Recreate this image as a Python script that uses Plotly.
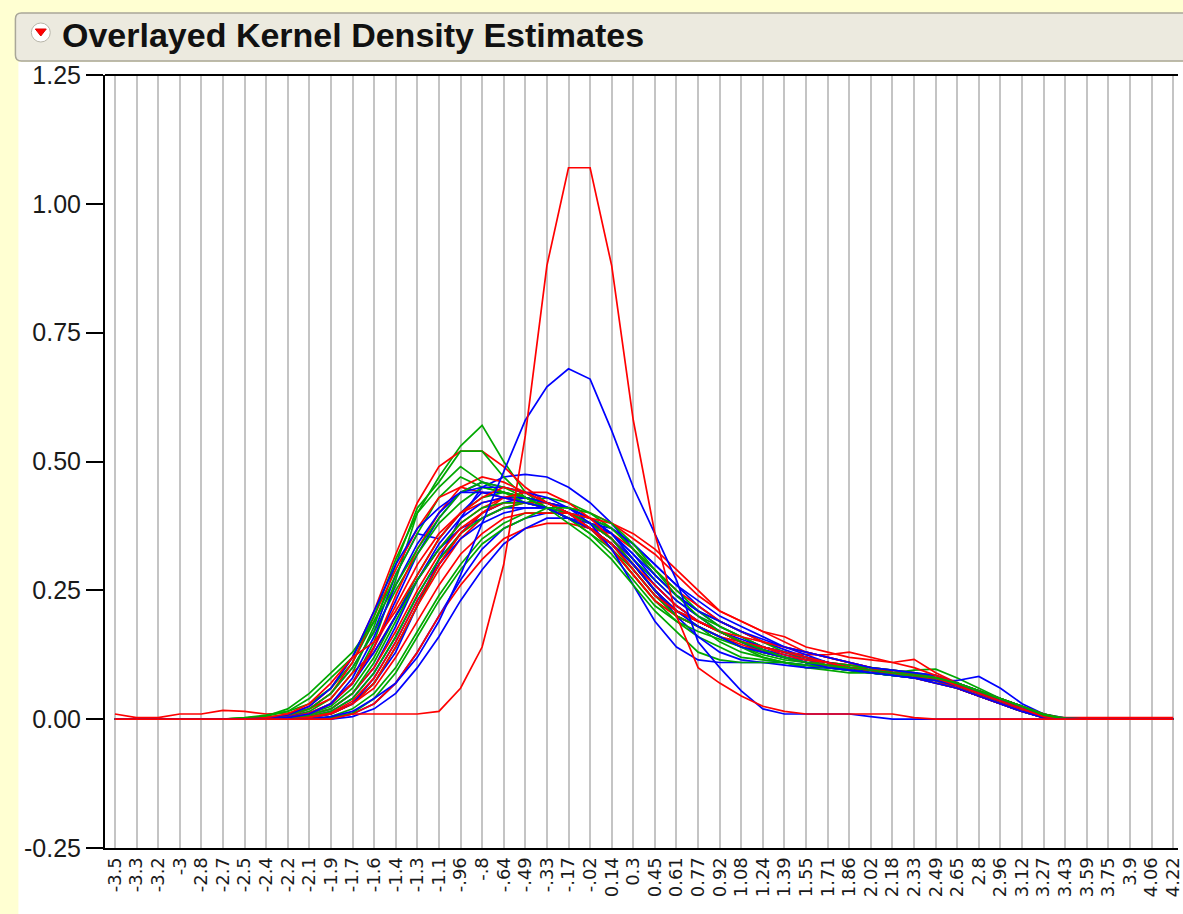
import plotly.graph_objects as go

# Category axis labels (bin centres as printed on the axis)
x_labels = ["-3.5", "-3.3", "-3.2", "-3", "-2.8", "-2.7", "-2.5", "-2.4", "-2.2", "-2.1",
            "-1.9", "-1.7", "-1.6", "-1.4", "-1.3", "-1.1", "-.96", "-.8", "-.64", "-.49",
            "-.33", "-.17", "-.02", "0.14", "0.3", "0.45", "0.61", "0.77", "0.92", "1.08",
            "1.24", "1.39", "1.55", "1.71", "1.86", "2.02", "2.18", "2.33", "2.49", "2.65",
            "2.8", "2.96", "3.12", "3.27", "3.43", "3.59", "3.75", "3.9", "4.06", "4.22"]

y_tick_vals = [-0.25, 0.0, 0.25, 0.5, 0.75, 1.0, 1.25]
y_tick_text = ["-0.25", "0.00", "0.25", "0.50", "0.75", "1.00", "1.25"]

# ---- density estimates, green group ----
green_1 = [0, 0, 0, 0, 0, 0, 0, 0, 0.003, 0.01,
           0.03, 0.07, 0.15, 0.27, 0.40, 0.47, 0.53, 0.57, 0.50, 0.44,
           0.41, 0.39, 0.37, 0.34, 0.30, 0.25, 0.21, 0.19, 0.17, 0.15,
           0.13, 0.12, 0.11, 0.105, 0.10, 0.095, 0.09, 0.085, 0.08, 0.065,
           0.05, 0.035, 0.02, 0.005, 0, 0, 0, 0, 0, 0]
green_2 = [0, 0, 0, 0, 0, 0, 0, 0, 0.005, 0.015,
           0.04, 0.09, 0.18, 0.30, 0.41, 0.46, 0.52, 0.52, 0.47, 0.43,
           0.41, 0.39, 0.36, 0.33, 0.29, 0.24, 0.21, 0.19, 0.17, 0.15,
           0.135, 0.12, 0.11, 0.105, 0.10, 0.095, 0.09, 0.09, 0.085, 0.07,
           0.05, 0.035, 0.02, 0.005, 0, 0, 0, 0, 0, 0]
green_3 = [0, 0, 0, 0, 0, 0, 0.003, 0.008, 0.015, 0.03,
           0.06, 0.11, 0.19, 0.28, 0.36, 0.43, 0.47, 0.45, 0.44, 0.43,
           0.42, 0.40, 0.38, 0.35, 0.30, 0.25, 0.20, 0.18, 0.16, 0.14,
           0.12, 0.11, 0.10, 0.10, 0.095, 0.09, 0.09, 0.095, 0.097, 0.08,
           0.06, 0.04, 0.02, 0.005, 0, 0, 0, 0, 0, 0]
green_4 = [0, 0, 0, 0, 0, 0, 0, 0, 0, 0.003,
           0.01, 0.03, 0.07, 0.14, 0.22, 0.30, 0.36, 0.40, 0.42, 0.42,
           0.42, 0.41, 0.39, 0.36, 0.31, 0.27, 0.23, 0.20, 0.18, 0.16,
           0.14, 0.13, 0.12, 0.11, 0.10, 0.095, 0.09, 0.085, 0.08, 0.07,
           0.055, 0.04, 0.025, 0.008, 0, 0, 0, 0, 0, 0]
green_5 = [0, 0, 0, 0, 0, 0, 0, 0, 0.003, 0.01,
           0.025, 0.06, 0.12, 0.20, 0.28, 0.35, 0.40, 0.43, 0.44, 0.43,
           0.42, 0.40, 0.37, 0.33, 0.28, 0.23, 0.19, 0.16, 0.14, 0.12,
           0.115, 0.11, 0.105, 0.10, 0.10, 0.095, 0.09, 0.085, 0.075, 0.06,
           0.045, 0.03, 0.015, 0.003, 0, 0, 0, 0, 0, 0]
green_6 = [0, 0, 0, 0, 0, 0, 0, 0, 0, 0.005,
           0.015, 0.04, 0.09, 0.16, 0.24, 0.31, 0.36, 0.39, 0.41, 0.42,
           0.43, 0.42, 0.40, 0.37, 0.33, 0.28, 0.24, 0.21, 0.19, 0.17,
           0.15, 0.13, 0.115, 0.105, 0.095, 0.09, 0.085, 0.08, 0.075, 0.065,
           0.05, 0.035, 0.02, 0.005, 0, 0, 0, 0, 0, 0]
green_7 = [0, 0, 0, 0, 0, 0, 0, 0.003, 0.008, 0.02,
           0.05, 0.10, 0.17, 0.25, 0.32, 0.38, 0.42, 0.45, 0.44, 0.43,
           0.41, 0.39, 0.36, 0.32, 0.27, 0.22, 0.19, 0.17, 0.155, 0.14,
           0.125, 0.115, 0.11, 0.105, 0.10, 0.095, 0.09, 0.09, 0.08, 0.065,
           0.05, 0.035, 0.02, 0.005, 0, 0, 0, 0, 0, 0]
green_8 = [0, 0, 0, 0, 0, 0, 0, 0, 0, 0,
           0.005, 0.02, 0.05, 0.10, 0.17, 0.24, 0.30, 0.35, 0.38, 0.40,
           0.40, 0.40, 0.39, 0.37, 0.33, 0.29, 0.25, 0.21, 0.18, 0.16,
           0.14, 0.13, 0.12, 0.11, 0.105, 0.10, 0.09, 0.08, 0.07, 0.06,
           0.045, 0.03, 0.015, 0.003, 0, 0, 0, 0, 0, 0]
green_9 = [0, 0, 0, 0, 0, 0, 0.002, 0.006, 0.015, 0.04,
           0.08, 0.12, 0.20, 0.31, 0.40, 0.45, 0.49, 0.46, 0.44, 0.42,
           0.41, 0.39, 0.37, 0.34, 0.29, 0.24, 0.20, 0.18, 0.16, 0.14,
           0.13, 0.12, 0.11, 0.10, 0.10, 0.10, 0.095, 0.09, 0.08, 0.07,
           0.05, 0.035, 0.02, 0.008, 0, 0, 0, 0, 0, 0]
green_10 = [0, 0, 0, 0, 0, 0, 0, 0, 0.002, 0.008,
            0.02, 0.05, 0.11, 0.19, 0.27, 0.33, 0.38, 0.41, 0.42, 0.42,
            0.41, 0.40, 0.38, 0.35, 0.30, 0.25, 0.21, 0.18, 0.15, 0.13,
            0.12, 0.11, 0.10, 0.095, 0.09, 0.09, 0.085, 0.08, 0.075, 0.065,
            0.05, 0.04, 0.025, 0.01, 0.002, 0, 0, 0, 0, 0]
green_11 = [0, 0, 0, 0, 0, 0, 0.002, 0.006, 0.02, 0.05,
            0.09, 0.13, 0.19, 0.26, 0.33, 0.39, 0.44, 0.46, 0.45, 0.43,
            0.41, 0.38, 0.35, 0.31, 0.26, 0.21, 0.17, 0.13, 0.115, 0.11,
            0.11, 0.11, 0.105, 0.10, 0.095, 0.09, 0.085, 0.085, 0.08, 0.07,
            0.055, 0.04, 0.025, 0.01, 0, 0, 0, 0, 0, 0]
green_12 = [0, 0, 0, 0, 0, 0, 0, 0, 0, 0,
            0.003, 0.012, 0.04, 0.09, 0.16, 0.23, 0.29, 0.34, 0.37, 0.39,
            0.41, 0.41, 0.40, 0.38, 0.34, 0.29, 0.24, 0.20, 0.17, 0.15,
            0.135, 0.12, 0.11, 0.105, 0.10, 0.095, 0.09, 0.085, 0.08, 0.07,
            0.055, 0.04, 0.025, 0.008, 0, 0, 0, 0, 0, 0]

# ---- density estimates, blue group ----
blue_peak = [0, 0, 0, 0, 0, 0, 0, 0, 0, 0,
             0.005, 0.015, 0.04, 0.07, 0.12, 0.19, 0.28, 0.38, 0.48, 0.58,
             0.645, 0.68, 0.66, 0.56, 0.45, 0.36, 0.27, 0.15, 0.10, 0.055,
             0.02, 0.01, 0.01, 0.01, 0.01, 0.005, 0, 0, 0, 0,
             0, 0, 0, 0, 0, 0, 0, 0, 0, 0]
blue_1 = [0, 0, 0, 0, 0, 0, 0, 0, 0, 0.004,
          0.012, 0.03, 0.07, 0.13, 0.22, 0.31, 0.39, 0.45, 0.47, 0.475,
          0.47, 0.45, 0.42, 0.38, 0.33, 0.28, 0.24, 0.21, 0.18, 0.16,
          0.14, 0.13, 0.12, 0.11, 0.10, 0.095, 0.09, 0.085, 0.075, 0.06,
          0.045, 0.03, 0.015, 0.003, 0, 0, 0, 0, 0, 0]
blue_2 = [0, 0, 0, 0, 0, 0, 0, 0, 0.005, 0.02,
          0.05, 0.10, 0.17, 0.28, 0.36, 0.35, 0.40, 0.44, 0.44, 0.43,
          0.42, 0.40, 0.38, 0.35, 0.31, 0.26, 0.22, 0.19, 0.17, 0.15,
          0.13, 0.12, 0.11, 0.105, 0.10, 0.095, 0.09, 0.085, 0.08, 0.07,
          0.05, 0.035, 0.02, 0.005, 0, 0, 0, 0, 0, 0]
blue_3 = [0, 0, 0, 0, 0, 0, 0, 0, 0, 0,
          0.003, 0.01, 0.03, 0.07, 0.13, 0.20, 0.27, 0.33, 0.37, 0.39,
          0.40, 0.40, 0.39, 0.37, 0.34, 0.30, 0.26, 0.22, 0.19, 0.17,
          0.15, 0.135, 0.12, 0.11, 0.10, 0.095, 0.09, 0.085, 0.08, 0.07,
          0.055, 0.04, 0.025, 0.008, 0, 0, 0, 0, 0, 0]
blue_4 = [0, 0, 0, 0, 0, 0, 0, 0, 0, 0.005,
          0.015, 0.04, 0.09, 0.16, 0.24, 0.31, 0.36, 0.40, 0.42, 0.43,
          0.42, 0.41, 0.39, 0.36, 0.32, 0.27, 0.23, 0.20, 0.17, 0.15,
          0.13, 0.12, 0.11, 0.10, 0.095, 0.09, 0.085, 0.08, 0.075, 0.075,
          0.083, 0.06, 0.03, 0.01, 0, 0, 0, 0, 0, 0]
blue_5 = [0, 0, 0, 0, 0, 0, 0, 0, 0.003, 0.01,
          0.03, 0.07, 0.13, 0.20, 0.27, 0.33, 0.37, 0.39, 0.41, 0.41,
          0.41, 0.40, 0.38, 0.35, 0.30, 0.25, 0.20, 0.16, 0.13, 0.115,
          0.11, 0.11, 0.105, 0.10, 0.10, 0.095, 0.09, 0.085, 0.075, 0.065,
          0.05, 0.035, 0.02, 0.005, 0, 0, 0, 0, 0, 0]
blue_6 = [0, 0, 0, 0, 0, 0, 0, 0, 0.004, 0.012,
          0.03, 0.07, 0.14, 0.23, 0.32, 0.39, 0.44, 0.46, 0.45, 0.44,
          0.42, 0.40, 0.37, 0.34, 0.29, 0.24, 0.21, 0.19, 0.17, 0.15,
          0.135, 0.125, 0.115, 0.11, 0.10, 0.095, 0.09, 0.085, 0.08, 0.065,
          0.05, 0.035, 0.02, 0.005, 0, 0, 0, 0, 0, 0]
blue_7 = [0, 0, 0, 0, 0, 0, 0, 0, 0, 0,
          0, 0.005, 0.02, 0.05, 0.10, 0.16, 0.23, 0.29, 0.34, 0.37,
          0.39, 0.39, 0.38, 0.37, 0.34, 0.30, 0.26, 0.23, 0.20, 0.18,
          0.16, 0.14, 0.125, 0.11, 0.10, 0.09, 0.085, 0.08, 0.075, 0.065,
          0.05, 0.035, 0.02, 0.005, 0, 0, 0, 0, 0, 0]
blue_8 = [0, 0, 0, 0, 0, 0, 0, 0, 0.002, 0.008,
          0.02, 0.05, 0.10, 0.18, 0.27, 0.34, 0.39, 0.42, 0.43, 0.43,
          0.42, 0.41, 0.39, 0.36, 0.31, 0.26, 0.22, 0.19, 0.17, 0.155,
          0.14, 0.13, 0.12, 0.11, 0.10, 0.095, 0.09, 0.085, 0.075, 0.06,
          0.045, 0.03, 0.015, 0.003, 0, 0, 0, 0, 0, 0]
blue_9 = [0, 0, 0, 0, 0, 0, 0, 0, 0, 0.003,
          0.01, 0.03, 0.08, 0.15, 0.23, 0.30, 0.35, 0.38, 0.40, 0.41,
          0.41, 0.40, 0.38, 0.36, 0.32, 0.28, 0.24, 0.21, 0.19, 0.17,
          0.155, 0.14, 0.13, 0.12, 0.11, 0.10, 0.095, 0.09, 0.085, 0.07,
          0.055, 0.04, 0.025, 0.01, 0.002, 0, 0, 0, 0, 0]
blue_10 = [0, 0, 0, 0, 0, 0, 0, 0, 0.003, 0.01,
           0.03, 0.08, 0.16, 0.26, 0.34, 0.40, 0.44, 0.45, 0.45, 0.44,
           0.43, 0.41, 0.38, 0.33, 0.26, 0.19, 0.14, 0.115, 0.11, 0.11,
           0.11, 0.105, 0.10, 0.10, 0.095, 0.09, 0.085, 0.08, 0.07, 0.06,
           0.045, 0.03, 0.015, 0.003, 0, 0, 0, 0, 0, 0]
blue_11 = [0, 0, 0, 0, 0, 0, 0, 0.002, 0.008, 0.025,
           0.06, 0.12, 0.21, 0.30, 0.37, 0.41, 0.44, 0.44, 0.43, 0.42,
           0.41, 0.39, 0.37, 0.34, 0.30, 0.25, 0.21, 0.18, 0.16, 0.14,
           0.13, 0.12, 0.11, 0.10, 0.095, 0.09, 0.085, 0.08, 0.075, 0.065,
           0.05, 0.035, 0.02, 0.005, 0, 0, 0, 0, 0, 0]

# ---- density estimates, red group ----
red_peak = [0, 0, 0, 0, 0, 0, 0, 0, 0, 0,
            0, 0.01, 0.01, 0.01, 0.01, 0.015, 0.06, 0.14, 0.30, 0.55,
            0.88, 1.07, 1.07, 0.88, 0.58, 0.36, 0.20, 0.10, 0.07, 0.045,
            0.025, 0.015, 0.01, 0.01, 0.01, 0.01, 0.01, 0.003, 0, 0,
            0, 0, 0, 0, 0, 0, 0, 0, 0, 0]
red_1 = [0, 0, 0, 0, 0, 0, 0, 0.003, 0.01, 0.025,
         0.06, 0.12, 0.21, 0.32, 0.42, 0.49, 0.52, 0.52, 0.49, 0.45,
         0.42, 0.40, 0.37, 0.33, 0.28, 0.23, 0.20, 0.18, 0.16, 0.14,
         0.13, 0.12, 0.11, 0.105, 0.10, 0.095, 0.09, 0.085, 0.08, 0.065,
         0.05, 0.035, 0.02, 0.005, 0, 0, 0, 0, 0, 0]
red_2 = [0.01, 0.003, 0.003, 0.01, 0.01, 0.017, 0.015, 0.01, 0.012, 0.02,
         0.04, 0.09, 0.13, 0.20, 0.27, 0.33, 0.38, 0.41, 0.43, 0.43,
         0.42, 0.40, 0.38, 0.35, 0.30, 0.25, 0.21, 0.19, 0.17, 0.15,
         0.14, 0.13, 0.12, 0.11, 0.105, 0.10, 0.095, 0.09, 0.08, 0.065,
         0.05, 0.035, 0.02, 0.005, 0.003, 0.003, 0.003, 0.003, 0.003, 0.003]
red_3 = [0, 0, 0, 0, 0, 0, 0, 0, 0.005, 0.02,
         0.05, 0.11, 0.20, 0.29, 0.37, 0.43, 0.45, 0.44, 0.43, 0.42,
         0.41, 0.39, 0.37, 0.34, 0.30, 0.25, 0.21, 0.19, 0.17, 0.15,
         0.135, 0.12, 0.115, 0.11, 0.105, 0.10, 0.095, 0.09, 0.08, 0.065,
         0.05, 0.035, 0.02, 0.005, 0, 0, 0, 0, 0, 0]
red_4 = [0, 0, 0, 0, 0, 0, 0, 0, 0, 0.003,
         0.01, 0.03, 0.07, 0.14, 0.22, 0.29, 0.35, 0.39, 0.41, 0.42,
         0.42, 0.41, 0.40, 0.38, 0.35, 0.32, 0.28, 0.24, 0.21, 0.19,
         0.17, 0.15, 0.13, 0.12, 0.11, 0.10, 0.09, 0.08, 0.07, 0.06,
         0.045, 0.03, 0.015, 0.003, 0, 0, 0, 0, 0, 0]
red_5 = [0, 0, 0, 0, 0, 0, 0, 0, 0.003, 0.01,
         0.03, 0.07, 0.14, 0.22, 0.30, 0.36, 0.40, 0.42, 0.43, 0.42,
         0.41, 0.39, 0.37, 0.34, 0.29, 0.24, 0.20, 0.18, 0.16, 0.15,
         0.14, 0.13, 0.125, 0.125, 0.13, 0.12, 0.11, 0.116, 0.09, 0.07,
         0.05, 0.035, 0.02, 0.005, 0, 0, 0, 0, 0, 0]
red_6 = [0, 0, 0, 0, 0, 0, 0, 0, 0, 0,
         0.003, 0.01, 0.03, 0.07, 0.13, 0.20, 0.26, 0.31, 0.35, 0.37,
         0.38, 0.38, 0.37, 0.36, 0.33, 0.29, 0.25, 0.22, 0.19, 0.17,
         0.15, 0.14, 0.13, 0.12, 0.11, 0.10, 0.09, 0.085, 0.075, 0.065,
         0.05, 0.035, 0.02, 0.005, 0, 0, 0, 0, 0, 0]
red_7 = [0, 0, 0, 0, 0, 0, 0, 0, 0.003, 0.012,
         0.03, 0.07, 0.14, 0.24, 0.33, 0.40, 0.45, 0.47, 0.46, 0.44,
         0.42, 0.40, 0.37, 0.33, 0.28, 0.23, 0.20, 0.18, 0.16, 0.145,
         0.13, 0.12, 0.11, 0.105, 0.10, 0.095, 0.09, 0.085, 0.08, 0.065,
         0.05, 0.035, 0.02, 0.005, 0, 0, 0, 0, 0, 0]
red_8 = [0, 0, 0, 0, 0, 0, 0, 0, 0.002, 0.008,
         0.02, 0.05, 0.10, 0.17, 0.25, 0.32, 0.37, 0.40, 0.42, 0.42,
         0.41, 0.40, 0.38, 0.35, 0.30, 0.26, 0.22, 0.19, 0.17, 0.16,
         0.15, 0.14, 0.13, 0.12, 0.11, 0.10, 0.09, 0.08, 0.07, 0.06,
         0.045, 0.03, 0.018, 0.006, 0, 0, 0, 0, 0, 0]
red_9 = [0, 0, 0, 0, 0, 0, 0, 0, 0, 0.004,
         0.012, 0.035, 0.08, 0.15, 0.23, 0.30, 0.36, 0.40, 0.43, 0.44,
         0.44, 0.42, 0.39, 0.35, 0.30, 0.25, 0.21, 0.19, 0.17, 0.15,
         0.14, 0.13, 0.12, 0.11, 0.10, 0.095, 0.09, 0.085, 0.075, 0.06,
         0.045, 0.03, 0.015, 0.004, 0, 0, 0, 0, 0, 0]
red_10 = [0, 0, 0, 0, 0, 0, 0, 0, 0, 0.003,
          0.01, 0.03, 0.06, 0.12, 0.19, 0.26, 0.32, 0.36, 0.39, 0.40,
          0.40, 0.40, 0.39, 0.38, 0.36, 0.33, 0.29, 0.25, 0.21, 0.19,
          0.17, 0.16, 0.14, 0.13, 0.12, 0.115, 0.11, 0.10, 0.085, 0.07,
          0.055, 0.04, 0.025, 0.01, 0, 0, 0, 0, 0, 0]
red_11 = [0, 0, 0, 0, 0, 0, 0, 0.003, 0.01, 0.03,
          0.07, 0.12, 0.15, 0.21, 0.28, 0.35, 0.40, 0.43, 0.45, 0.44,
          0.42, 0.40, 0.37, 0.34, 0.29, 0.24, 0.21, 0.19, 0.17, 0.15,
          0.14, 0.125, 0.115, 0.11, 0.10, 0.095, 0.09, 0.085, 0.08, 0.065,
          0.05, 0.035, 0.02, 0.005, 0, 0, 0, 0, 0, 0]

green_series = [green_1, green_2, green_3, green_4, green_5, green_6,
                green_7, green_8, green_9, green_10, green_11, green_12]
blue_series = [blue_1, blue_2, blue_3, blue_4, blue_5, blue_6,
               blue_7, blue_8, blue_9, blue_10, blue_11, blue_peak]
red_series = [red_1, red_2, red_3, red_4, red_5, red_6,
              red_7, red_8, red_9, red_10, red_11, red_peak]

GREEN = "#00A800"
BLUE = "#0000FF"
RED = "#FF0000"

W, H = 1183, 914
M_L, M_R, M_T, M_B = 105, 0, 75, 66


def px(x):
    """pixel column -> paper x"""
    return (x - M_L) / (W - M_L - M_R)


def py(y):
    """pixel row -> paper y"""
    return (H - M_B - y) / (H - M_T - M_B)


fig = go.Figure()

# interleave the groups so no single colour sits entirely on top
for g, b, r in zip(green_series, blue_series, red_series):
    for vals, col in ((g, GREEN), (b, BLUE), (r, RED)):
        fig.add_trace(go.Scatter(
            x=x_labels, y=vals, mode="lines",
            line=dict(color=col, width=1.7),
            showlegend=False, hoverinfo="skip"))

# outline title bar with rounded left corners
rad = 6
bar_l, bar_r, bar_t, bar_b = 15, 1210, 13, 61
bar_path = (f"M {px(bar_l)},{py(bar_t + rad)} Q {px(bar_l)},{py(bar_t)} {px(bar_l + rad)},{py(bar_t)} "
            f"L {px(bar_r)},{py(bar_t)} L {px(bar_r)},{py(bar_b)} "
            f"L {px(bar_l + rad)},{py(bar_b)} Q {px(bar_l)},{py(bar_b)} {px(bar_l)},{py(bar_b - rad)} Z")

shapes = [
    # white report body next to the yellow window strip
    dict(type="rect", xref="paper", yref="paper",
         x0=px(18), x1=px(W + 5), y0=py(H + 5), y1=py(62),
         fillcolor="white", line=dict(width=0), layer="below"),
    dict(type="path", xref="paper", yref="paper", path=bar_path,
         fillcolor="#ECEADF", line=dict(color="#A9A799", width=1.5), layer="below"),
    # disclosure icon
    dict(type="circle", xref="paper", yref="paper",
         x0=px(31), x1=px(50), y0=py(42), y1=py(23),
         fillcolor="white", line=dict(color="#B8B6AA", width=1), layer="above"),
    dict(type="path", xref="paper", yref="paper",
         path=f"M {px(35)},{py(29)} L {px(46)},{py(29)} L {px(40.5)},{py(36)} Z",
         fillcolor="#FF0000", line=dict(color="#E00000", width=1), layer="above"),
    # frame line along the top of the plot
    dict(type="line", xref="paper", yref="paper",
         x0=0, x1=1, y0=1, y1=1, line=dict(color="black", width=2), layer="above"),
]

fig.add_annotation(
    xref="paper", yref="paper", x=px(60), y=py(35),
    xanchor="left", yanchor="middle", showarrow=False,
    text="<b>Overlayed Kernel Density Estimates</b>",
    font=dict(family="Liberation Sans, Arial, sans-serif", size=34, color="#111111"))

fig.update_layout(
    width=W, height=H,
    margin=dict(l=M_L, r=M_R, t=M_T, b=M_B, pad=0),
    paper_bgcolor="#FFFFD2",
    plot_bgcolor="white",
    shapes=shapes,
    hovermode=False,
    showlegend=False,
    xaxis=dict(
        type="category",
        range=[-0.46, 49.22],
        tickmode="array", tickvals=x_labels, ticktext=x_labels,
        showgrid=True, gridcolor="#C4C4C4", gridwidth=2,
        showline=True, linecolor="black", linewidth=2,
        ticks="", tickangle=-90,
        tickfont=dict(family="DejaVu Sans, sans-serif", size=18, color="#1A1A1A"),
        zeroline=False, fixedrange=True,
    ),
    yaxis=dict(
        range=[-0.25, 1.25],
        tickmode="array", tickvals=y_tick_vals, ticktext=y_tick_text,
        ticks="outside", ticklen=17, tickwidth=2, tickcolor="black",
        showline=True, linecolor="black", linewidth=2,
        showgrid=False, zeroline=False,
        tickfont=dict(family="Liberation Sans, Arial, sans-serif", size=25, color="#1A1A1A"),
        fixedrange=True,
    ),
)

fig.write_html("out.html")
